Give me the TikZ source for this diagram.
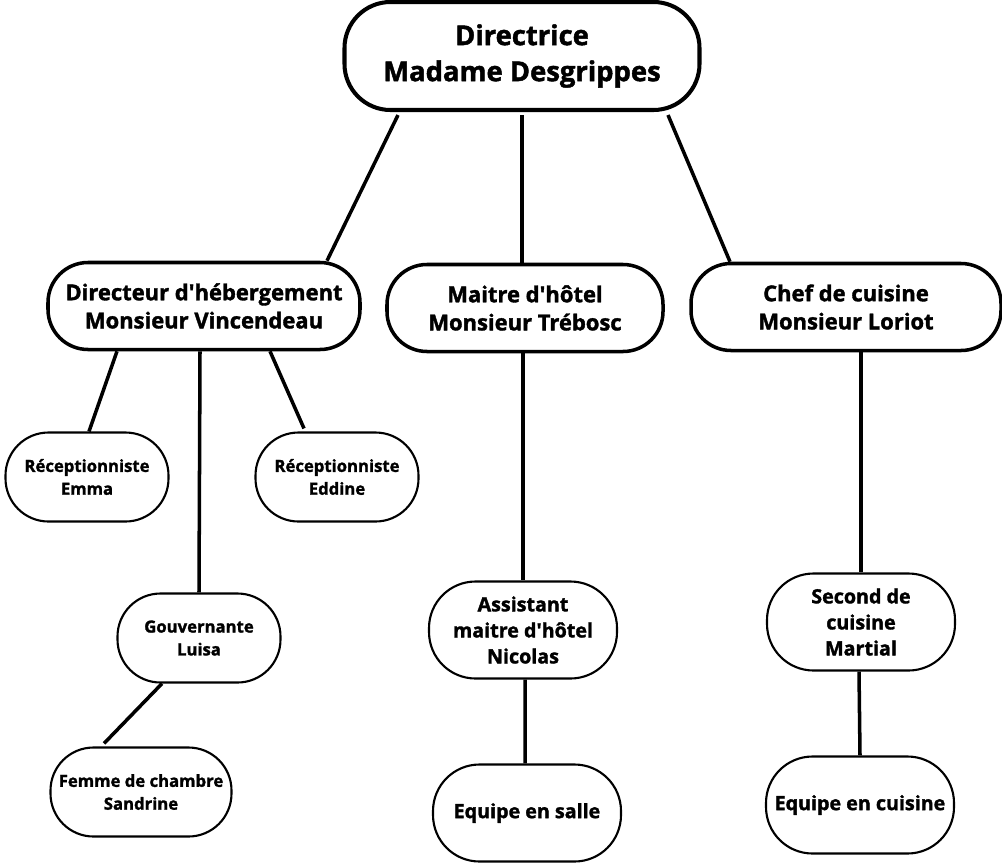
\documentclass[tikz,border=0pt]{standalone}
\usepackage{fontspec}
\setmainfont{Open Sans}[BoldFeatures={FakeBold=1.6}]
\usepackage{tikz}
\usetikzlibrary{positioning}

\begin{document}
\begin{tikzpicture}[
    every node/.style={draw, rounded corners=0.8cm, align=center,
        font=\bfseries, inner sep=0pt},
    boss/.style={line width=2.3pt, minimum width=7.1cm, minimum height=2.16cm,
        rounded corners=0.92cm, font=\bfseries\fontsize{15.6}{20.5}\selectfont},
    head/.style={line width=2pt, minimum height=1.74cm, rounded corners=0.8cm,
        font=\bfseries\fontsize{12.5}{16}\selectfont},
    staff/.style={line width=1.2pt, minimum width=3.26cm, minimum height=1.78cm,
        rounded corners=0.86cm, font=\bfseries\fontsize{9.5}{13}\selectfont},
    team/.style={line width=1.2pt, minimum width=3.76cm, minimum height=1.94cm,
        rounded corners=0.93cm, font=\bfseries\fontsize{11.2}{14.8}\selectfont},
    link/.style={line width=2pt}]
    \useasboundingbox (0,0) rectangle (20.04,-17.26);

    \node[boss] (dirz) at (10.44,-1.12) {Directrice\\Madame Desgrippes};

    \node[head, minimum width=6.24cm] (heberg) at (4.08,-6.12) {Directeur d\textquotesingle hébergement\\Monsieur Vincendeau};
    \node[head, minimum width=5.52cm] (hotel) at (10.5,-6.16) {Maitre d\textquotesingle hôtel\\Monsieur Trébosc};
    \node[head, minimum width=6.2cm] (chef) at (16.92,-6.14) {Chef de cuisine\\Monsieur Loriot};

    \node[staff] (emma) at (1.74,-9.54) {Réceptionniste\\Emma};
    \node[staff] (eddine) at (6.74,-9.54) {Réceptionniste\\Eddine};
    \node[staff] (luisa) at (3.98,-12.76) {Gouvernante\\Luisa};
    \node[staff, minimum width=3.62cm] (sandrine) at (2.82,-15.84) {Femme de chambre\\Sandrine};

    \node[team] (nicolas) at (10.46,-12.6) {Assistant\\maitre d\textquotesingle hôtel\\Nicolas};
    \node[team] (salle) at (10.54,-16.26) {Equipe en salle};
    \node[team] (martial) at (17.22,-12.44) {Second de\\cuisine\\Martial};
    \node[team] (cuisine) at (17.2,-16.1) {Equipe en cuisine};

    \draw[link] ([xshift=-2.48cm,yshift=-0.06cm]dirz.south) -- ([xshift=2.46cm]heberg.north);
    \draw[link] ([yshift=-0.06cm]dirz.south) -- (dirz.south |- hotel.north);
    \draw[link] ([xshift=2.92cm,yshift=-0.06cm]dirz.south) -- ([xshift=-2.32cm]chef.north);

    \draw[link] ([xshift=-1.74cm]heberg.south) -- ([xshift=0.04cm]emma.north);
    \draw[link] ([xshift=-0.08cm]heberg.south) -- (luisa.north);
    \draw[link] ([xshift=1.32cm]heberg.south) -- ([xshift=-0.66cm,yshift=0.06cm]eddine.north);
    \draw[link] ([xshift=-0.74cm]luisa.south) -- ([xshift=-0.74cm,yshift=0.06cm]sandrine.north);

    \draw[link] (hotel.south -| nicolas.north) -- (nicolas.north);
    \draw[link] ([xshift=0.04cm]nicolas.south) -- ([xshift=-0.04cm]salle.north);
    \draw[link] (chef.south -| martial.north) -- (martial.north);
    \draw[link] ([xshift=-0.04cm]martial.south) -- (cuisine.north);

\end{tikzpicture}
\end{document}
